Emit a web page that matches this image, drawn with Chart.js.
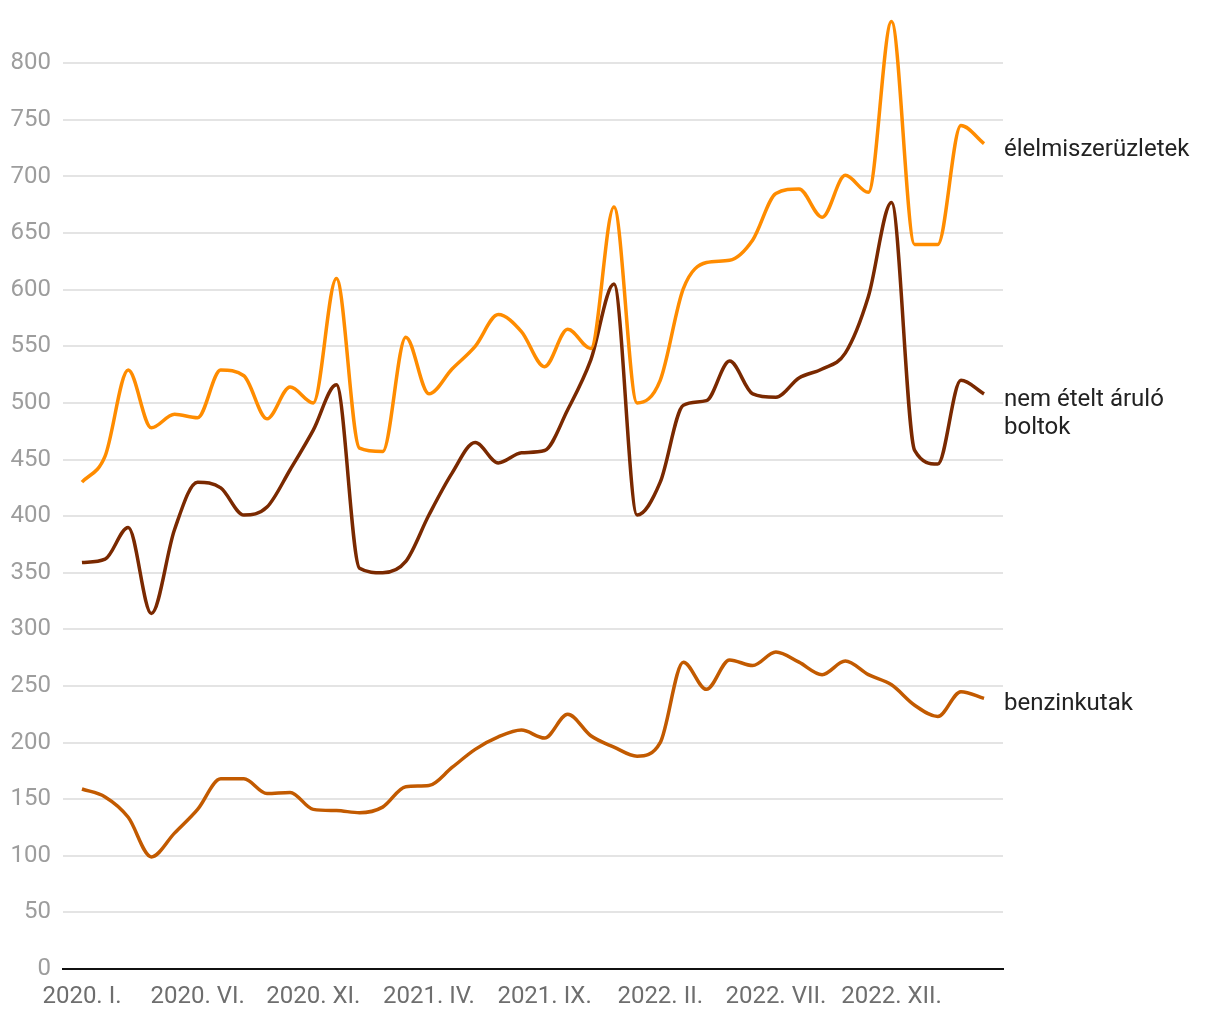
<!DOCTYPE html>
<html>
<head>
<meta charset="utf-8">
<script src="https://cdn.jsdelivr.net/npm/chart.js"></script>
<style>
  body { margin: 0; background: #fff; }
  #wrap { width: 1220px; height: 1020px; }
</style>
</head>
<body>
<div id="wrap"><canvas id="chart" width="1220" height="1020"></canvas></div>
<script>
// havi adatok, 2020. I. - 2023. IV.
var months = [
  '2020. I.', '2020. II.', '2020. III.', '2020. IV.', '2020. V.', '2020. VI.',
  '2020. VII.', '2020. VIII.', '2020. IX.', '2020. X.', '2020. XI.', '2020. XII.',
  '2021. I.', '2021. II.', '2021. III.', '2021. IV.', '2021. V.', '2021. VI.',
  '2021. VII.', '2021. VIII.', '2021. IX.', '2021. X.', '2021. XI.', '2021. XII.',
  '2022. I.', '2022. II.', '2022. III.', '2022. IV.', '2022. V.', '2022. VI.',
  '2022. VII.', '2022. VIII.', '2022. IX.', '2022. X.', '2022. XI.', '2022. XII.',
  '2023. I.', '2023. II.', '2023. III.', '2023. IV.'
];
// minden ötödik hónap kap feliratot
var tickMonths = [0, 5, 10, 15, 20, 25, 30, 35];
var yTicks = [0, 50, 100, 150, 200, 250, 300, 350, 400, 450, 500, 550, 600, 650, 700, 750, 800];

var food = [430, 453, 529, 478, 490, 487, 529, 524, 486, 514, 500, 610, 460, 457, 558, 508, 530, 550, 578, 563,
            532, 565, 548, 673, 500, 520, 601, 624, 626, 644, 685, 689, 664, 701, 686, 837, 640, 640, 745, 729];
var nonFood = [359, 362, 390, 314, 388, 430, 425, 401, 408, 441, 476, 516, 354, 350, 360, 401, 438, 465, 447, 456,
               458, 494, 538, 605, 401, 430, 498, 502, 537, 508, 505, 522, 530, 544, 594, 677, 458, 446, 520, 508];
var fuel = [159, 152, 134, 99, 120, 141, 168, 168, 155, 156, 141, 140, 138, 143, 161, 162, 178, 194, 205, 211,
            204, 225, 206, 196, 188, 200, 271, 247, 273, 268, 280, 271, 260, 272, 260, 251, 233, 223, 245, 239];

var seriesNames = [['élelmiszerüzletek'], ['nem ételt áruló', 'boltok'], ['benzinkutak']];
var seriesColors = ['#ff8c00', '#7a2900', '#c25a00'];
var seriesValues = [food, nonFood, fuel];

var FONT = 'Roboto, "Noto Sans", sans-serif';

// feliratok a vonalak végén
var endLabels = {
  id: 'endLabels',
  afterDatasetsDraw: function (chart) {
    var c = chart.ctx;
    c.save();
    c.font = '24px ' + FONT;
    c.fillStyle = '#222';
    c.textAlign = 'left';
    c.textBaseline = 'alphabetic';
    chart.data.datasets.forEach(function (ds, i) {
      var meta = chart.getDatasetMeta(i);
      var last = meta.data[meta.data.length - 1];
      seriesNames[i].forEach(function (line, k) {
        c.fillText(line, chart.chartArea.right + 1, last.y + 12 + k * 28);
      });
    });
    c.restore();
  }
};

var ctx = document.getElementById('chart').getContext('2d');

var myChart = new Chart(ctx, {
  type: 'line',
  data: {
    datasets: seriesValues.map(function (vals, i) {
      return {
        label: seriesNames[i].join(' '),
        data: vals.map(function (v, j) { return { x: j, y: v }; }),
        borderColor: seriesColors[i],
        borderWidth: 3.5,
        pointRadius: 0,
        cubicInterpolationMode: 'monotone',
        fill: false
      };
    })
  },
  options: {
    responsive: false,
    animation: false,
    layout: { padding: { left: 10, right: 217, top: 18, bottom: 10 } },
    plugins: {
      legend: { display: false },
      tooltip: { enabled: false }
    },
    scales: {
      x: {
        type: 'linear',
        min: -0.82,
        max: 39.82,
        afterBuildTicks: function (axis) {
          axis.ticks = tickMonths.map(function (m) { return { value: m }; });
        },
        afterFit: function (axis) {
          axis.height = 41;
          axis.paddingLeft = 0;
          axis.paddingRight = 0;
        },
        ticks: {
          maxRotation: 0,
          autoSkip: false,
          padding: 14,
          color: '#6e6e6e',
          font: { family: FONT, size: 24 },
          callback: function (v) { return months[v]; }
        },
        grid: { display: false, drawTicks: false },
        border: { display: true, color: '#111', width: 2 }
      },
      y: {
        min: 0,
        max: 840,
        afterBuildTicks: function (axis) {
          axis.ticks = yTicks.map(function (v) { return { value: v }; });
        },
        afterFit: function (axis) {
          axis.width = 53;
          axis.paddingTop = 0;
          axis.paddingBottom = 0;
        },
        ticks: {
          padding: 12,
          color: '#9d9d9d',
          font: { family: FONT, size: 24 }
        },
        grid: { color: '#e4e4e4', lineWidth: 2, drawTicks: false },
        border: { display: false }
      }
    }
  },
  plugins: [endLabels]
});
</script>
</body>
</html>
